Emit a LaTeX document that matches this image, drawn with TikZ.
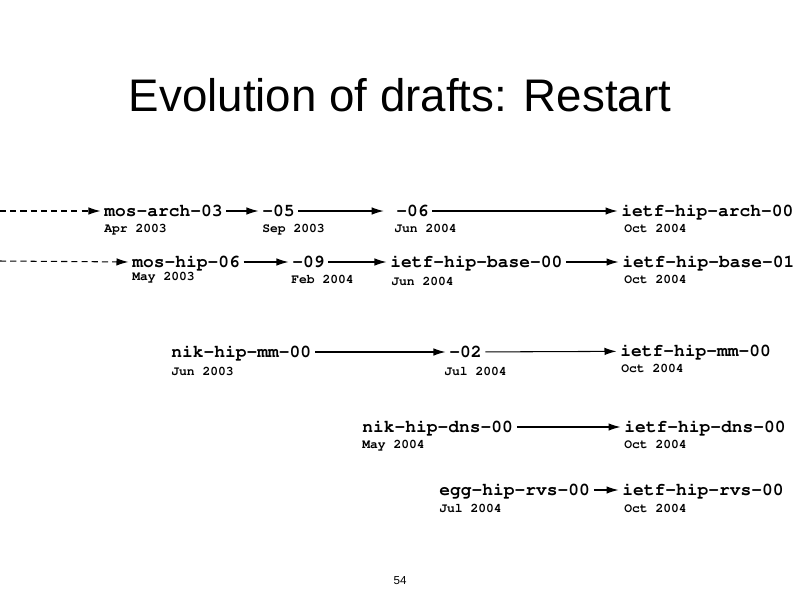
\documentclass[tikz,border=0pt]{standalone}
\usepackage[T1]{fontenc}
\usepackage{fontspec}
\setmainfont{Liberation Sans}
\newcommand\draftfont{\fontencoding{T1}\fontfamily{pcr}\fontseries{b}\selectfont}
\usepackage{tikz}
\usetikzlibrary{arrows.meta}
\tikzset{
	draft/.style={anchor=west, inner sep=0pt, font=\draftfont\fontsize{10.2}{12}\selectfont, text height=8pt, text depth=2pt},
	date/.style={anchor=base west, inner sep=0pt, font=\draftfont\fontsize{7.4}{9}\selectfont},
	evo/.style={-{Latex[length=2.4mm,width=1.5mm]}, line width=0.6pt, shorten <=2pt, shorten >=2pt},
	older/.style={evo, dash pattern=on 3.5pt off 2.3pt},
}

\begin{document}
\begin{tikzpicture}[x=0.02cm, y=-0.02cm]
		\useasboundingbox (0,0) rectangle (800,600);
		\node[font=\fontsize{26}{30}\selectfont] (title) at (400,95) {Evolution of drafts: Restart};
		\node[font=\fontsize{6.6}{8}\selectfont] (page) at (400,581) {54};

		\node[draft] (arch3) at (104,211) {mos-arch-03};
		\node[draft] (arch5) at (262,211) {-05};
		\node[draft] (arch6) at (396,211) {-06};
		\node[draft] (harch) at (621,211) {ietf-hip-arch-00};
		\node[date] (arch3d) at (104,232) {Apr 2003};
		\node[date] (arch5d) at (262,232) {Sep 2003};
		\node[date] (arch6d) at (394,232) {Jun 2004};
		\node[date] (harchd) at (624,232) {Oct 2004};

		\node[draft] (hip6) at (132,262) {mos-hip-06};
		\node[draft] (hip9) at (292,262) {-09};
		\node[draft] (base0) at (390,262) {ietf-hip-base-00};
		\node[draft] (base1) at (622,262) {ietf-hip-base-01};
		\node[date] (hip6d) at (132,280) {May 2003};
		\node[date] (hip9d) at (291,283) {Feb 2004};
		\node[date] (base0d) at (391,285) {Jun 2004};
		\node[date] (base1d) at (624,283) {Oct 2004};

		\node[draft] (mm0) at (171,352) {nik-hip-mm-00};
		\node[draft] (mm2) at (449,352) {-02};
		\node[draft] (hmm) at (620,351) {ietf-hip-mm-00};
		\node[date] (mm0d) at (171,375) {Jun 2003};
		\node[date] (mm2d) at (444,375) {Jul 2004};
		\node[date] (hmmd) at (621,372) {Oct 2004};

		\node[draft] (dns0) at (362,427) {nik-hip-dns-00};
		\node[draft] (hdns) at (624,427) {ietf-hip-dns-00};
		\node[date] (dns0d) at (362,448) {May 2004};
		\node[date] (hdnsd) at (624,448) {Oct 2004};

		\node[draft] (rvs0) at (439,490) {egg-hip-rvs-00};
		\node[draft] (hrvs) at (622,490) {ietf-hip-rvs-00};
		\node[date] (rvs0d) at (439,512) {Jul 2004};
		\node[date] (hrvsd) at (624,512) {Oct 2004};

		\coordinate (archin) at (0,211);
		\coordinate (hipin) at (0,261);
		\draw[older, shorten <=0pt] (archin) -- (arch3.west);
		\draw[older, shorten <=0pt] (hipin) -- (hip6.west);
		\draw[evo] (arch3) -- (arch5);
		\draw[evo, shorten >=7pt] (arch5) -- (arch6);
		\draw[evo] (arch6) -- (harch);
		\draw[evo] (hip6) -- (hip9);
		\draw[evo] (hip9) -- (base0);
		\draw[evo] (base0) -- (base1);
		\draw[evo] (mm0) -- (mm2);
		\draw[evo] (mm2) -- (hmm);
		\draw[evo] (dns0) -- (hdns);
		\draw[evo] (rvs0) -- (hrvs);
	\end{tikzpicture}
\end{document}
